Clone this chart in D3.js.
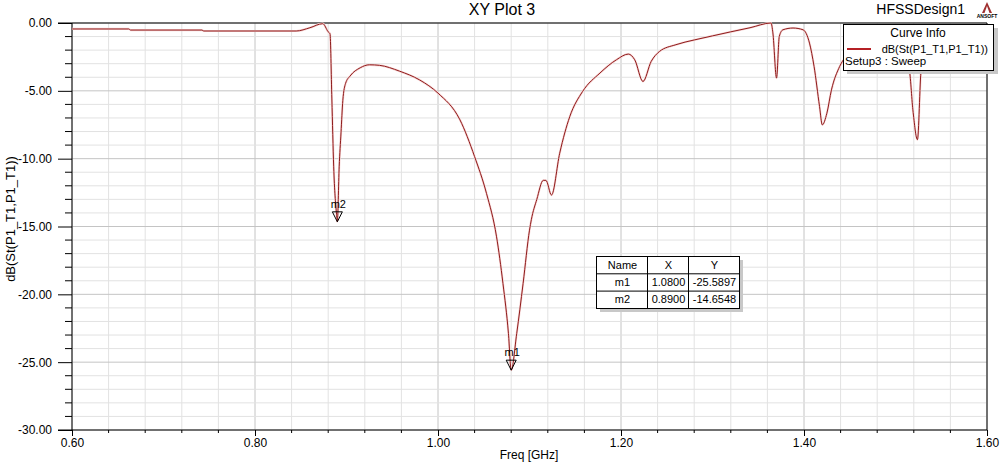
<!DOCTYPE html>
<html>
<head>
<meta charset="utf-8">
<script src="https://cdn.jsdelivr.net/npm/d3@7"></script>
<style>
  body { margin: 0; background: #fff; }
  svg { display: block; font-family: "Liberation Sans", Arial, sans-serif; }
</style>
</head>
<body>
<svg id="chart" width="1003" height="466"></svg>
<script>
// sweep data (Freq GHz, dB)
var freq = [0.600, 0.662, 0.664, 0.742, 0.744, 0.845, 0.860, 0.874, 0.880, 0.882,
  0.884, 0.886, 0.889, 0.890, 0.892, 0.894, 0.896, 0.899, 0.904, 0.915,
  0.925, 0.936, 0.958, 0.980, 1.000, 1.024, 1.040, 1.053, 1.064, 1.071,
  1.077, 1.080, 1.086, 1.093, 1.100, 1.102, 1.108, 1.115, 1.118, 1.124,
  1.133, 1.144, 1.158, 1.177, 1.195, 1.208, 1.215, 1.224, 1.233, 1.242,
  1.260, 1.280, 1.300, 1.320, 1.341, 1.364, 1.366, 1.370, 1.373, 1.377, 1.388,
  1.399, 1.406, 1.411, 1.417, 1.420, 1.425, 1.430, 1.439, 1.450, 1.470,
  1.490, 1.505, 1.515, 1.519, 1.524, 1.528, 1.535, 1.560, 1.600];
var s11 = [-0.44, -0.44, -0.52, -0.52, -0.59, -0.59, -0.35, -0.05, -0.65, -0.80,
  -5.6, -10.6, -14.0, -14.65, -10.6, -8.1, -5.7, -4.45, -3.9, -3.3,
  -3.08, -3.12, -3.55, -4.2, -5.17, -7.14, -9.85, -12.56, -15.76, -19.2,
  -22.9, -25.59, -22.9, -19.2, -15.27, -14.5, -13.0, -11.6, -11.6, -12.68,
  -9.6, -6.9, -5.05, -3.69, -2.71, -2.29, -2.71, -4.31, -2.83, -2.1,
  -1.6, -1.25, -0.95, -0.65, -0.35, 0.0, -0.73, -4.06, -0.99, -0.5, -0.37,
  -0.5, -1.48, -3.2, -6.16, -7.51, -6.65, -4.93, -3.2, -2.2, -1.5,
  -1.6, -2.4, -3.45, -6.4, -8.6, -3.45, -1.5, -1.0, -0.9];

var markerNames = ["m1", "m2"];
var markerX = [1.0800, 0.8900];
var markerY = [-25.5897, -14.6548];

var xTicks = [0.6, 0.8, 1.0, 1.2, 1.4, 1.6];
var yTicks = [0, -5, -10, -15, -20, -25, -30];

// plain hyphen, not the unicode minus
var fmt2 = v => d3.format(".2f")(v).replace("\u2212", "-");
var fmt4 = v => d3.format(".4f")(v).replace("\u2212", "-");

var svg = d3.select("#chart");
var margin = {top: 23, right: 16, bottom: 36, left: 72};
var W = 1003, H = 466;
var iw = W - margin.left - margin.right, ih = H - margin.top - margin.bottom;

var x = d3.scaleLinear().domain([0.6, 1.6]).range([0, iw]);
var y = d3.scaleLinear().domain([0, -30]).range([0, ih]);

var g = svg.append("g").attr("transform", "translate(" + margin.left + "," + margin.top + ")");

// grid
var minorX = d3.range(0.6, 1.6001, 0.04), minorY = d3.range(0, -30.001, -1);
g.selectAll(".gx").data(minorX).enter().append("line")
  .attr("x1", d => x(d)).attr("x2", d => x(d)).attr("y1", 0).attr("y2", ih)
  .attr("stroke", (d, i) => i % 5 === 0 ? "#c4c4c4" : "#e2e2e2");
g.selectAll(".gy").data(minorY).enter().append("line")
  .attr("y1", d => y(d)).attr("y2", d => y(d)).attr("x1", 0).attr("x2", iw)
  .attr("stroke", (d, i) => i % 5 === 0 ? "#c4c4c4" : "#e2e2e2");

// frame
g.append("line").attr("x1", -14).attr("x2", iw).attr("y1", 0).attr("y2", 0).attr("stroke", "#000");
g.append("line").attr("x1", iw).attr("x2", iw).attr("y1", 0).attr("y2", ih).attr("stroke", "#000");

// axes
var yAxis = d3.axisLeft(y).tickValues(yTicks).tickFormat(fmt2).tickSize(14).tickPadding(6);
var yA = g.append("g").call(yAxis);
yA.select(".domain").remove();
g.append("line").attr("x1", 0).attr("x2", 0).attr("y1", 0).attr("y2", ih).attr("stroke", "#000");
g.selectAll(".ymin").data(minorY.filter((d, i) => i % 5 !== 0)).enter().append("line")
  .attr("x1", -7).attr("x2", 0).attr("y1", d => y(d)).attr("y2", d => y(d)).attr("stroke", "#000");

var xAxis = d3.axisBottom(x).tickValues(xTicks).tickFormat(fmt2).tickSize(6).tickPadding(2);
var xA = g.append("g").attr("transform", "translate(0," + ih + ")").call(xAxis);
xA.select(".domain").remove();
g.append("line").attr("x1", -14).attr("x2", iw).attr("y1", ih).attr("y2", ih).attr("stroke", "#000");
g.selectAll(".xmin").data(minorX.filter((d, i) => i % 5 !== 0)).enter().append("line")
  .attr("y1", ih).attr("y2", ih + 3).attr("x1", d => x(d)).attr("x2", d => x(d)).attr("stroke", "#000");

svg.selectAll(".tick text").attr("font-size", 12).attr("fill", "#000")
  .attr("font-family", "'Liberation Sans', Arial, sans-serif");
svg.selectAll(".tick line").attr("stroke", "#000");

// curve
var pts = freq.map((f, i) => [f, s11[i]]);
var line = d3.line().x(d => x(d[0])).y(d => y(d[1])).curve(d3.curveMonotoneX);
g.append("path").datum(pts).attr("d", line)
  .attr("fill", "none").attr("stroke", "#f7d6d6").attr("stroke-width", 2.2);
g.append("path").datum(pts).attr("d", line)
  .attr("fill", "none").attr("stroke", "#8e1b1b").attr("stroke-width", 1);

// markers
markerNames.forEach(function(n, i) {
  var px = x(markerX[i]), py = y(markerY[i]);
  g.append("path").attr("d", "M" + (px - 5) + "," + (py - 10) + "L" + (px + 5) + "," + (py - 10) + "L" + px + "," + py + "Z")
    .attr("fill", "none").attr("stroke", "#000").attr("stroke-width", 1);
  g.append("text").attr("x", px + 1).attr("y", py - 14).attr("text-anchor", "middle")
    .attr("font-size", 11).text(n);
});

// titles
svg.append("text").attr("x", 502).attr("y", 15).attr("text-anchor", "middle")
  .attr("font-size", 16).text("XY Plot 3");
svg.append("text").attr("x", 965).attr("y", 14).attr("text-anchor", "end")
  .attr("font-size", 14).text("HFSSDesign1");
svg.append("text").attr("x", 529).attr("y", 459).attr("text-anchor", "middle")
  .attr("font-size", 12).text("Freq [GHz]");
svg.append("text").attr("transform", "translate(15," + 219 + ") rotate(-90)")
  .attr("text-anchor", "middle").attr("font-size", 13).text("dB(St(P1_T1,P1_T1))");

// ansoft logo
var logo = svg.append("g").attr("transform", "translate(987,2)");
logo.append("path").attr("d", "M0,0 L-5,11 L5,11 Z").attr("fill", "#a03030");
logo.append("path").attr("d", "M0,4 L-2.5,11 L2.5,11 Z").attr("fill", "#fff");
logo.append("text").attr("x", 0).attr("y", 16).attr("text-anchor", "middle")
  .attr("font-size", 5).attr("font-weight", "bold").text("ANSOFT");

// curve info legend
var lg = svg.append("g").attr("transform", "translate(843,24)");
lg.append("rect").attr("x", 4).attr("y", 4).attr("width", 151).attr("height", 46).attr("fill", "#c8c8c8");
lg.append("rect").attr("x", 0.5).attr("y", 0.5).attr("width", 150).attr("height", 46)
  .attr("fill", "#fff").attr("stroke", "#000");
lg.append("text").attr("x", 75).attr("y", 13).attr("text-anchor", "middle").attr("font-size", 12).text("Curve Info");
lg.append("line").attr("x1", 4).attr("x2", 28).attr("y1", 25).attr("y2", 25)
  .attr("stroke", "#b52025").attr("stroke-width", 2);
lg.append("text").attr("x", 145).attr("y", 29).attr("text-anchor", "end").attr("font-size", 11).text("dB(St(P1_T1,P1_T1))");
lg.append("text").attr("x", 2).attr("y", 41).attr("font-size", 11.5).text("Setup3 : Sweep");

// marker table
var tb = svg.append("g").attr("transform", "translate(596,256)");
var colX = [0, 51, 92, 143], rowH = 17.3;
tb.append("rect").attr("x", 4).attr("y", 4).attr("width", 143).attr("height", 52).attr("fill", "#c8c8c8");
tb.append("rect").attr("x", 0.5).attr("y", 0.5).attr("width", 143).attr("height", 52)
  .attr("fill", "#fff").attr("stroke", "#000");
[1, 2].forEach(r => tb.append("line").attr("x1", 0).attr("x2", 143).attr("y1", 0.5 + r * rowH).attr("y2", 0.5 + r * rowH).attr("stroke", "#000"));
[1, 2].forEach(c => tb.append("line").attr("x1", colX[c] + 0.5).attr("x2", colX[c] + 0.5).attr("y1", 0).attr("y2", 52).attr("stroke", "#000"));
var rows = [["Name", "X", "Y"]].concat(markerNames.map((n, i) => [n, fmt4(markerX[i]), fmt4(markerY[i])]));
rows.forEach(function(r, ri) {
  r.forEach(function(t, ci) {
    tb.append("text").attr("x", (colX[ci] + colX[ci + 1]) / 2 + 1).attr("y", ri * rowH + 12.5)
      .attr("text-anchor", "middle").attr("font-size", 11).text(t);
  });
});
</script>
</body>
</html>
